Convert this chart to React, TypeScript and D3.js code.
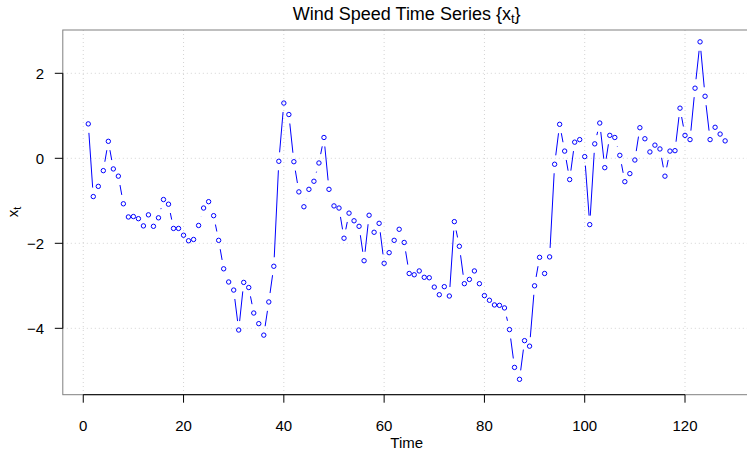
import React from "react";
import * as d3 from "d3";

const times: number[] = d3.range(1, 129);
const values: number[] = [
  0.81, -0.90, -0.66, -0.29, 0.40, -0.25, -0.42, -1.07, -1.38, -1.37,
  -1.42, -1.59, -1.33, -1.60, -1.40, -0.97, -1.08, -1.65, -1.65, -1.81,
  -1.94, -1.91, -1.58, -1.17, -1.02, -1.35, -1.93, -2.60, -2.91, -3.10,
  -4.04, -2.92, -3.04, -3.64, -3.89, -4.16, -3.38, -2.54, -0.07, 1.30,
  1.03, -0.08, -0.79, -1.14, -0.73, -0.54, -0.11, 0.49, -0.73, -1.12,
  -1.17, -1.88, -1.29, -1.47, -1.60, -2.41, -1.34, -1.74, -1.53, -2.47,
  -2.22, -1.93, -1.67, -1.98, -2.71, -2.74, -2.65, -2.80, -2.81, -3.03,
  -3.21, -3.02, -3.24, -1.49, -2.07, -2.95, -2.85, -2.65, -2.95, -3.23,
  -3.34, -3.45, -3.46, -3.52, -4.03, -4.92, -5.20, -4.29, -4.42, -3.00,
  -2.33, -2.71, -2.32, -0.14, 0.80, 0.17, -0.50, 0.38, 0.44, 0.04,
  -1.56, 0.34, 0.83, -0.22, 0.54, 0.49, 0.07, -0.55, -0.36, -0.04,
  0.72, 0.46, 0.15, 0.31, 0.22, -0.42, 0.17, 0.18, 1.18, 0.54,
  0.44, 1.65, 2.74, 1.46, 0.44, 0.73, 0.57, 0.41,
];
const xTicks: number[] = [0, 20, 40, 60, 80, 100, 120];
const yTicks: number[] = [-4, -2, 0, 2];

const W = 747;
const H = 450;
const left = 62.8;
const right = 750.6;
const top = 30;
const bottom = 394.7;
const FONT = "'Liberation Sans', Arial, Helvetica, sans-serif";

export default function App() {
  const x = d3.scaleLinear().domain([-4.08, 133.08]).range([left, right]);
  const y = d3.scaleLinear().domain([-5.562, 3.019]).range([bottom, top]);
  const pts = times.map((t, i) => [x(t), y(values[i])] as [number, number]);
  const gap = 9;
  const segs: { x1: number; y1: number; x2: number; y2: number }[] = [];
  for (let i = 0; i < pts.length - 1; i++) {
    const [ax, ay] = pts[i];
    const [bx, by] = pts[i + 1];
    const dx = bx - ax;
    const dy = by - ay;
    const d = Math.hypot(dx, dy);
    if (d > 2 * gap) {
      const ux = dx / d;
      const uy = dy / d;
      segs.push({ x1: ax + ux * gap, y1: ay + uy * gap, x2: bx - ux * gap, y2: by - uy * gap });
    }
  }
  return (
    <svg width={W} height={H} style={{ position: "absolute", left: 0, top: 0, background: "#fff" }} fontFamily={FONT}>
      <rect x={0} y={0} width={W} height={H} fill="#fff" />
      {xTicks.map((t) => (
        <line key={"gx" + t} x1={x(t)} x2={x(t)} y1={top} y2={bottom} stroke="#d3d3d3" strokeDasharray="1,3" />
      ))}
      {yTicks.map((t) => (
        <line key={"gy" + t} x1={left} x2={right} y1={y(t)} y2={y(t)} stroke="#d3d3d3" strokeDasharray="1,3" />
      ))}
      {segs.map((s, i) => (
        <line key={"s" + i} x1={s.x1} y1={s.y1} x2={s.x2} y2={s.y2} stroke="#0000ff" strokeWidth={1} />
      ))}
      {pts.map(([px, py], i) => (
        <circle key={"p" + i} cx={px} cy={py} r={2.2} fill="none" stroke="#0000ff" strokeWidth={1} />
      ))}
      <rect x={left} y={top} width={right - left} height={bottom - top} fill="none" stroke="#808080" strokeWidth={1} />
      <line x1={x(xTicks[0])} x2={x(xTicks[xTicks.length - 1])} y1={bottom} y2={bottom} stroke="#000" />
      {xTicks.map((t) => (
        <g key={"xt" + t}>
          <line x1={x(t)} x2={x(t)} y1={bottom} y2={bottom + 8} stroke="#000" />
          <text x={x(t)} y={431} fontSize={15} textAnchor="middle" fill="#000">{t}</text>
        </g>
      ))}
      <line x1={left} x2={left} y1={y(yTicks[0])} y2={y(yTicks[yTicks.length - 1])} stroke="#000" />
      {yTicks.map((t) => (
        <g key={"yt" + t}>
          <line x1={left} x2={left - 8} y1={y(t)} y2={y(t)} stroke="#000" />
          <text x={44} y={y(t) + 6} fontSize={15} textAnchor="end" fill="#000">{t < 0 ? "\u2212" + Math.abs(t) : t}</text>
        </g>
      ))}
      <text x={(left + right) / 2} y={448} fontSize={15} textAnchor="middle" fill="#000">Time</text>
      <text transform="translate(18,212) rotate(-90)" fontSize={15} textAnchor="middle" fill="#000">
        x<tspan fontSize={11} dy={3}>t</tspan>
      </text>
      <text x={(left + right) / 2} y={20} fontSize={18} textAnchor="middle" fill="#000">
        Wind Speed Time Series {"{"}x<tspan fontSize={13} dy={3}>t</tspan><tspan dy={-3}>{"}"}</tspan>
      </text>
    </svg>
  );
}
